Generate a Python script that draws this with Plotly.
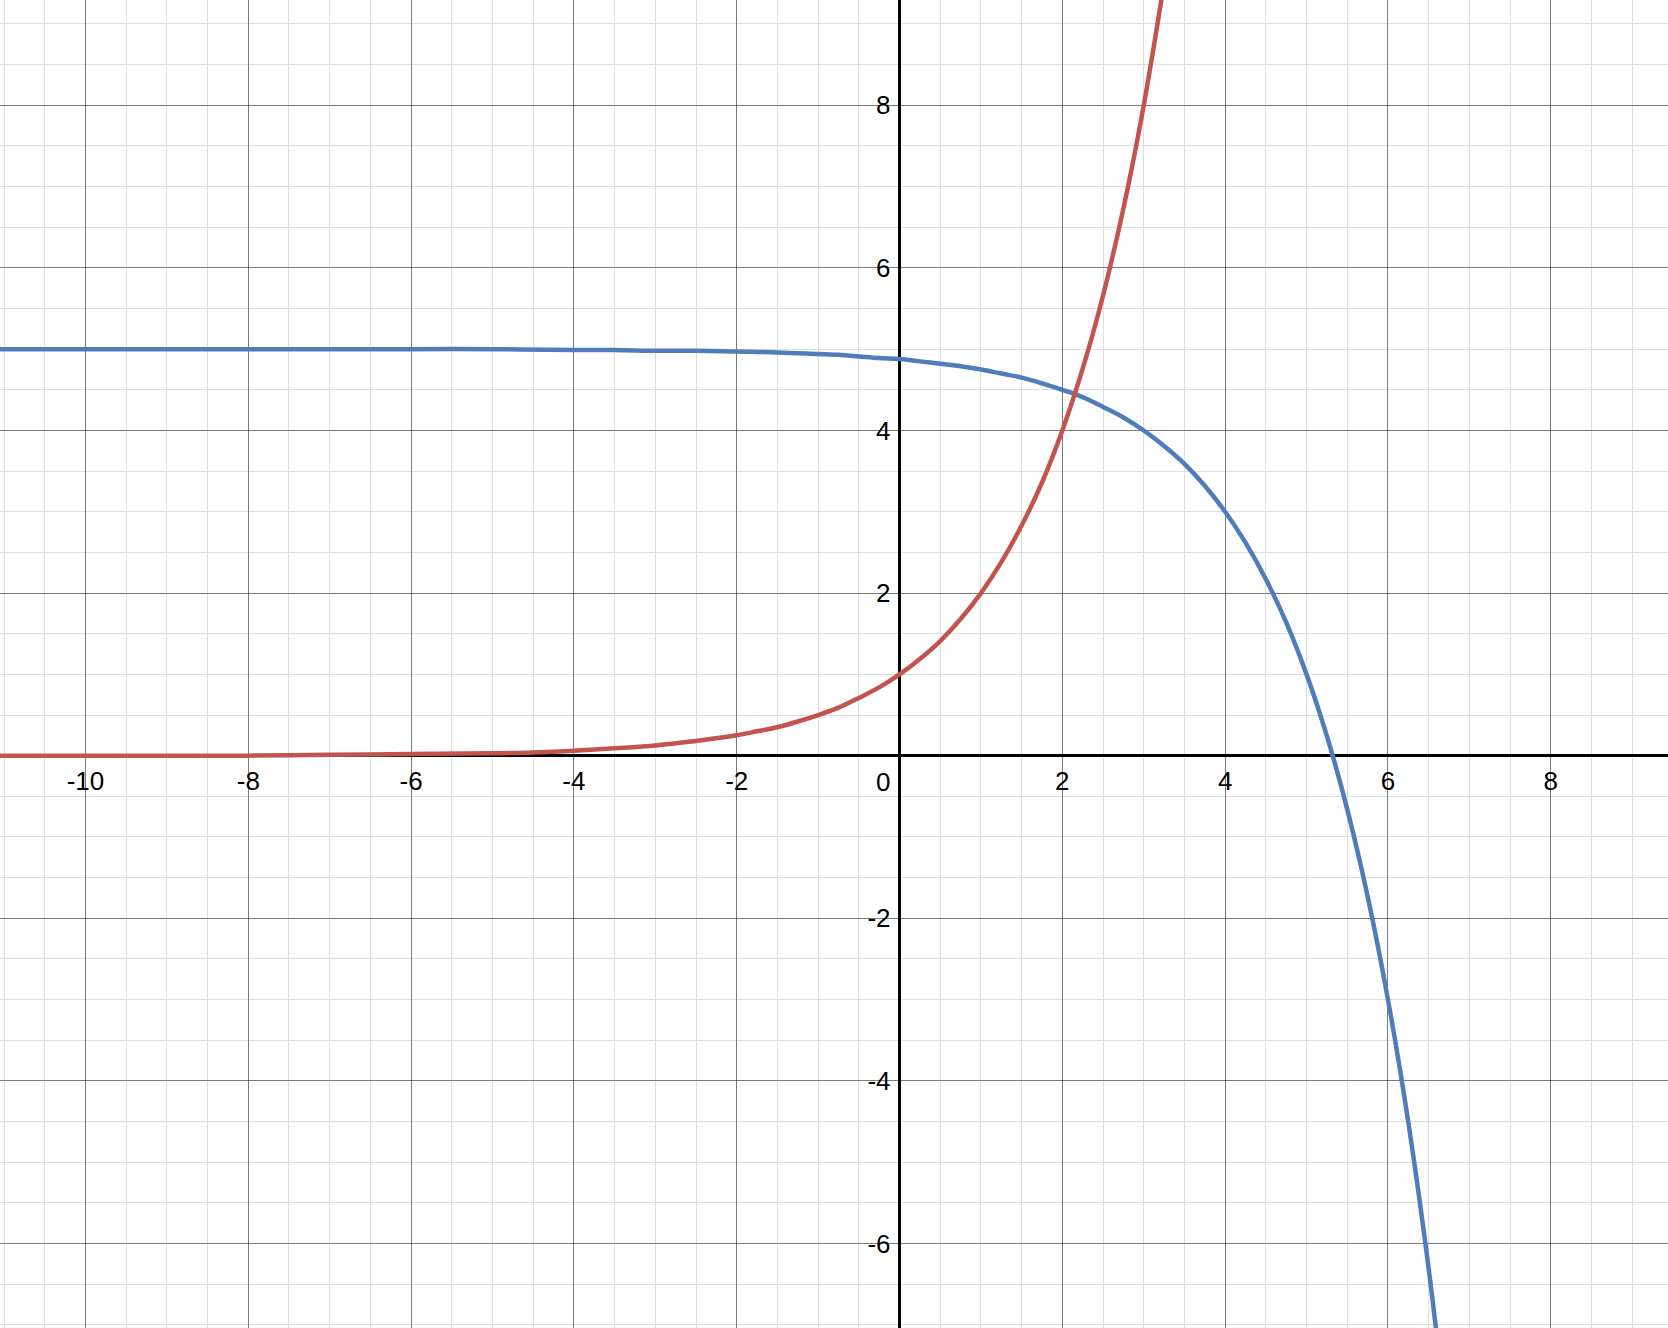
import plotly.graph_objects as go

# точки
red_x = [-11.1, -10, -9, -8, -7, -6, -5, -4.5, -4, -3.5, -3, -2.5,
         -2, -1.75, -1.5, -1.25, -1, -0.75, -0.5, -0.25, 0, 0.25, 0.5, 0.75,
         1, 1.25, 1.5, 1.75, 2, 2.25, 2.5, 2.75, 3, 3.25]
red_y = [0, 0, 0, 0, 0.01, 0.02, 0.03, 0.04, 0.06, 0.09, 0.125, 0.18,
         0.25, 0.30, 0.35, 0.42, 0.5, 0.59, 0.71, 0.84, 1.0, 1.19, 1.41, 1.68,
         2.0, 2.38, 2.83, 3.36, 4.0, 4.76, 5.66, 6.73, 8.0, 9.51]

blue_x = [-11.1, -10, -9, -8, -7, -6, -5, -4, -3.5, -3, -2.5, -2, -1.5,
          -1, -0.75, -0.5, -0.25, 0, 0.25, 0.5, 0.75, 1, 1.25, 1.5, 1.75,
          2, 2.25, 2.5, 2.75, 3, 3.25, 3.5, 3.75, 4, 4.25, 4.5, 4.75,
          5, 5.25, 5.5, 5.75, 6, 6.25, 6.5, 6.75]
blue_y = [5.0, 5.0, 5.0, 5.0, 5.0, 5.0, 5.0, 4.99, 4.99, 4.98, 4.98, 4.97, 4.96,
          4.94, 4.93, 4.91, 4.89, 4.88, 4.85, 4.82, 4.79, 4.75, 4.70, 4.65, 4.58,
          4.5, 4.41, 4.29, 4.16, 4.0, 3.81, 3.59, 3.32, 3.0, 2.62, 2.17, 1.64,
          1.0, 0.24, -0.66, -1.73, -3.0, -4.51, -6.31, -8.45]

x_ticks = [-10, -8, -6, -4, -2, 2, 4, 6, 8]
y_ticks = [-6, -4, -2, 2, 4, 6, 8]

x_range = [-11.05, 9.44]
y_range = [-7.04, 9.295]

label_font = dict(family="Liberation Sans, Arial, sans-serif", size=26, color="black")


def main():
    fig = go.Figure()
    fig.add_trace(go.Scatter(
        x=blue_x, y=blue_y,
        mode="lines",
        line=dict(color="#4f7dbb", width=4.5, shape="spline", smoothing=1),
        showlegend=False, hoverinfo="skip"
    ))
    fig.add_trace(go.Scatter(
        x=red_x, y=red_y,
        mode="lines",
        line=dict(color="#c2544d", width=4.5, shape="spline", smoothing=1),
        showlegend=False, hoverinfo="skip"
    ))

    # оси проходят через ноль
    x_pos = -y_range[0] / (y_range[1] - y_range[0])
    y_pos = -x_range[0] / (x_range[1] - x_range[0])

    grid_major = "rgba(0,0,0,0.45)"
    grid_minor = "#dedede"

    fig.update_xaxes(
        range=x_range,
        tickmode="array", tickvals=x_ticks, ticktext=[str(v) for v in x_ticks],
        showgrid=True, gridcolor=grid_major, gridwidth=1.3,
        minor=dict(dtick=0.5, tick0=0, showgrid=True, gridcolor=grid_minor, gridwidth=1.3),
        zeroline=True, zerolinecolor="black", zerolinewidth=2.5,
        showline=False, ticks="",
        anchor="free", position=x_pos,
        ticklabelstandoff=7,
        tickfont=label_font,
        automargin=False,
    )
    fig.update_yaxes(
        range=y_range,
        tickmode="array", tickvals=y_ticks, ticktext=[str(v) for v in y_ticks],
        showgrid=True, gridcolor=grid_major, gridwidth=1.3,
        minor=dict(dtick=0.5, tick0=0, showgrid=True, gridcolor=grid_minor, gridwidth=1.3),
        zeroline=True, zerolinecolor="black", zerolinewidth=2.5,
        showline=False, ticks="",
        anchor="free", position=y_pos,
        ticklabelstandoff=9,
        tickfont=label_font,
        automargin=False,
    )

    fig.add_annotation(
        x=0, y=0, xref="x", yref="y",
        text="0", showarrow=False,
        xanchor="right", yanchor="top",
        xshift=-8, yshift=-9,
        font=label_font
    )

    fig.update_layout(
        width=1668, height=1328,
        margin=dict(l=0, r=0, t=0, b=0),
        plot_bgcolor="white",
        paper_bgcolor="white",
    )
    # убираем отступ body, чтобы график начинался с края окна
    fig.write_html(
        "out.html",
        config={"displayModeBar": False},
        post_script="document.body.style.margin='0';document.body.style.overflow='hidden';"
    )


if __name__ == "__main__":
    main()
